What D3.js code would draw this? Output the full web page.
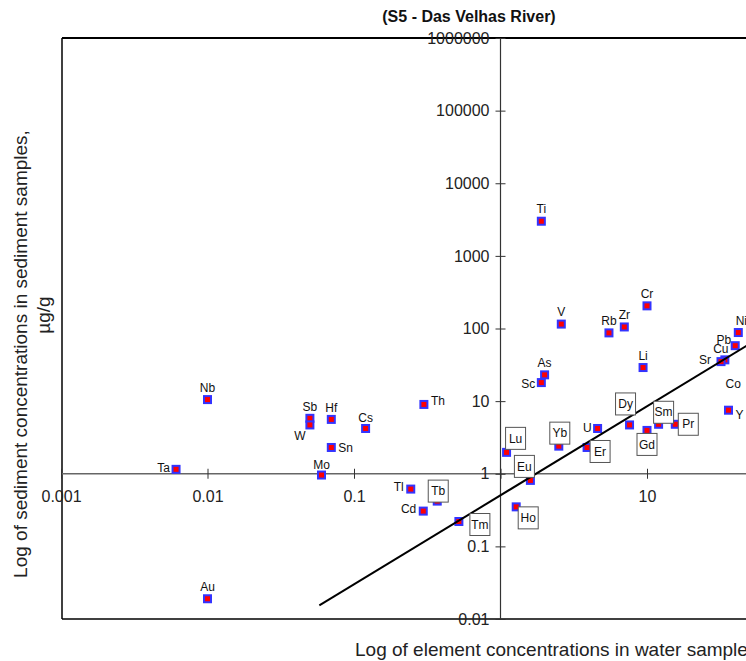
<!DOCTYPE html>
<html>
<head>
<meta charset="utf-8">
<script src="https://cdn.jsdelivr.net/npm/d3@7"></script>
<style>
  body { margin: 0; background: #fff; }
  svg { display: block; font-family: Arial, "Liberation Sans", sans-serif; }
</style>
</head>
<body>
<div id="chart"></div>
<script>
// element names, water (x) and sediment (y) concentrations
const elements = ["Ti","V","Rb","Zr","Cr","Li","As","Sc","Ni","Pb","Cu","Sr","Co","Y",
  "Th","U","Dy","Sm","Pr","Gd","Lu","Yb","Er","Eu","Ho","Tm","Tb","Tl","Cd",
  "Nb","Sb","W","Hf","Cs","Sn","Ta","Mo","Au"];
const waterConc = [1.9,2.6,5.5,7.0,10,9.4,2.0,1.9,42,40,34,32,59,36,
  0.3,4.6,7.6,12,15.6,10,1.1,2.5,3.9,1.6,1.28,0.52,0.37,0.244,0.297,
  0.01,0.05,0.05,0.07,0.12,0.07,0.0061,0.06,0.01];
const sedimentConc = [3000,115,87,105,205,29,23,18,88,58,37,35,17,7.5,
  9,4.2,4.7,4.8,4.8,3.95,1.97,2.4,2.3,0.81,0.35,0.22,0.42,0.615,0.306,
  10.5,5.8,4.7,5.6,4.2,2.3,1.15,0.96,0.019];
// rare earths get boxed labels
const boxed = ["Dy","Sm","Pr","Gd","Lu","Yb","Er","Eu","Ho","Tm","Tb"];

// fitted line end points
const fitX = [0.058, 1000];
const fitY = [0.0154, 2400];

const xTicks = [0.001, 0.01, 0.1, 1, 10, 100, 1000];
const xTickLabels = ["0.001", "0.01", "0.1", "", "10", "100", "1000"];
const yTicks = [0.01, 0.1, 1, 10, 100, 1000, 10000, 100000, 1000000];
const yTickLabels = ["0.01", "0.1", "1", "10", "100", "1000", "10000", "100000", "1000000"];

// label placement relative to the marker: [dx, dy, anchor]
const labelPos = {
  Ti:[0,-8,"middle"], V:[0,-8,"middle"], Rb:[0,-8,"middle"], Zr:[0,-8,"middle"],
  Cr:[0,-8,"middle"], Li:[0,-8,"middle"], As:[0,-8,"middle"], Sc:[-6,5,"end"],
  Ni:[3,-8,"middle"], Pb:[-4,-2,"end"], Cu:[-4,-7,"middle"], Sr:[-10,2,"end"],
  Co:[-19,4,"end"], Y:[7,9,"start"], Th:[7,1,"start"], U:[-6,4,"end"],
  Tl:[-7,2,"end"], Cd:[-7,2,"end"], Nb:[0,-8,"middle"], Sb:[0,-7,"middle"],
  W:[-10,15,"middle"], Hf:[0,-7,"middle"], Cs:[0,-6,"middle"], Sn:[7,5,"start"],
  Ta:[-6,3,"end"], Mo:[0,-6,"middle"], Au:[0,-8,"middle"],
  Dy:[-4,-21], Sm:[5,-12], Pr:[13,0], Gd:[0,14], Lu:[9,-14], Yb:[1,-13],
  Er:[13,4], Eu:[-6,-14], Ho:[12,11], Tm:[21,3], Tb:[1,-10]
};

const W = 746, H = 661;
const svg = d3.select("#chart").append("svg").attr("width", W).attr("height", H);

const x = d3.scaleLog().domain([0.001, 1000]).range([61, 940]);
const y = d3.scaleLog().domain([0.01, 1000000]).range([619, 38]);

const data = elements.map((e, i) => ({name: e, w: waterConc[i], s: sedimentConc[i]}));

// frame
svg.append("line").attr("x1", 62).attr("x2", W).attr("y1", 38).attr("y2", 38)
  .attr("stroke", "#000").attr("stroke-width", 2);
svg.append("line").attr("x1", 62).attr("x2", W).attr("y1", 619).attr("y2", 619)
  .attr("stroke", "#000").attr("stroke-width", 1.5);
svg.append("line").attr("x1", 62).attr("x2", 62).attr("y1", 38).attr("y2", 619)
  .attr("stroke", "#000").attr("stroke-width", 1.5);

// crossing axes
const x0 = x(1), y0 = y(1);
svg.append("line").attr("x1", 62).attr("x2", W).attr("y1", y0).attr("y2", y0)
  .attr("stroke", "#666").attr("stroke-width", 1.3);
svg.append("line").attr("x1", x0).attr("x2", x0).attr("y1", 38).attr("y2", 619)
  .attr("stroke", "#333").attr("stroke-width", 1.2);

const yAxis = svg.append("g").attr("transform", `translate(${x0},0)`)
  .call(d3.axisLeft(y).tickValues(yTicks).tickFormat((d, i) => yTickLabels[i])
    .tickSize(5).tickPadding(6));
yAxis.select(".domain").remove();
yAxis.selectAll(".tick line").attr("x1", -5).attr("x2", 5).attr("stroke", "#333");
yAxis.selectAll(".tick text").attr("font-size", 16).attr("fill", "#222")
  .attr("font-family", "Arial, 'Liberation Sans', sans-serif");

const xAxis = svg.append("g").attr("transform", `translate(0,${y0})`)
  .call(d3.axisBottom(x).tickValues(xTicks).tickFormat((d, i) => xTickLabels[i])
    .tickSize(5).tickPadding(12));
xAxis.select(".domain").remove();
xAxis.selectAll(".tick line").attr("y1", -5).attr("y2", 5).attr("stroke", "#333");
xAxis.selectAll(".tick text").attr("font-size", 16).attr("fill", "#222")
  .attr("font-family", "Arial, 'Liberation Sans', sans-serif");

// markers
svg.append("g").selectAll("rect").data(data).enter().append("rect")
  .attr("x", d => x(d.w) - 3.5).attr("y", d => y(d.s) - 3.5)
  .attr("width", 7).attr("height", 7)
  .attr("fill", "#ff0000").attr("stroke", "#3333ff").attr("stroke-width", 2);

// fitted line
svg.append("path")
  .attr("d", d3.line().x(d => x(d[0])).y(d => y(d[1]))(fitX.map((v, i) => [v, fitY[i]])))
  .attr("fill", "none").attr("stroke", "#000").attr("stroke-width", 2);

// plain labels
const plain = data.filter(d => !boxed.includes(d.name));
svg.append("g").selectAll("text").data(plain).enter().append("text")
  .attr("x", d => x(d.w) + labelPos[d.name][0])
  .attr("y", d => y(d.s) + labelPos[d.name][1])
  .attr("text-anchor", d => labelPos[d.name][2])
  .attr("font-size", 12).attr("fill", "#111")
  .text(d => d.name);

// boxed labels
const bx = svg.append("g").selectAll("g").data(data.filter(d => boxed.includes(d.name)))
  .enter().append("g")
  .attr("transform", d => `translate(${x(d.w) + labelPos[d.name][0]},${y(d.s) + labelPos[d.name][1]})`);
bx.append("rect").attr("x", -10).attr("y", -11).attr("width", 20).attr("height", 22)
  .attr("fill", "#fff").attr("stroke", "#555").attr("stroke-width", 1);
bx.append("text").attr("text-anchor", "middle").attr("dy", "0.35em")
  .attr("font-size", 12).attr("fill", "#111").text(d => d.name);

// titles
svg.append("text").attr("x", 469).attr("y", 22).attr("text-anchor", "middle")
  .attr("font-size", 16).attr("font-weight", "bold").attr("fill", "#111")
  .text("(S5 - Das Velhas River)");

svg.append("text").attr("transform", "translate(27,354) rotate(-90)")
  .attr("text-anchor", "middle").attr("font-size", 19).attr("fill", "#222")
  .text("Log of sediment concentrations in sediment samples,");
svg.append("text").attr("transform", "translate(50,315) rotate(-90)")
  .attr("text-anchor", "middle").attr("font-size", 19).attr("fill", "#222")
  .text("µg/g");

svg.append("text").attr("x", 355).attr("y", 656)
  .attr("font-size", 19).attr("fill", "#222")
  .text("Log of element concentrations in water samples, µg/L");
</script>
</body>
</html>
